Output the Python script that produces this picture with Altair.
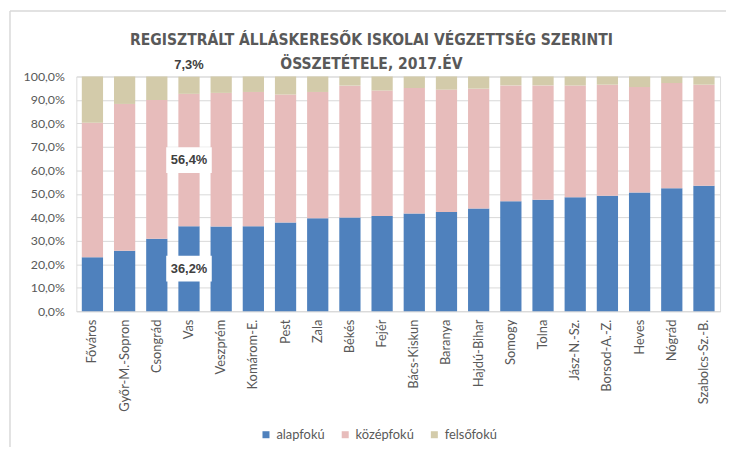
import altair as alt
import pandas as pd

categories = ["Főváros", "Győr-M.-Sopron", "Csongrád", "Vas", "Veszprém", "Komárom-E.",
              "Pest", "Zala", "Békés", "Fejér", "Bács-Kiskun", "Baranya", "Hajdú-Bihar",
              "Somogy", "Tolna", "Jász-N.-Sz.", "Borsod-A.-Z.", "Heves", "Nógrád",
              "Szabolcs-Sz.-B."]
alapfoku = [23.0, 25.8, 30.9, 36.2, 36.1, 36.2, 37.8, 39.6, 39.9, 40.6,
            41.6, 42.3, 43.7, 46.8, 47.5, 48.5, 49.2, 50.6, 52.4, 53.4]
kozepfoku = [57.3, 62.5, 59.1, 56.4, 56.9, 57.2, 54.5, 53.8, 56.2, 53.4,
             53.5, 52.1, 51.1, 49.4, 48.7, 47.7, 47.3, 44.9, 44.8, 43.1]
felsofoku = [19.7, 11.7, 10.0, 7.3, 7.0, 6.6, 7.7, 6.6, 3.9, 6.0,
             4.9, 5.6, 5.2, 3.8, 3.8, 3.8, 3.5, 4.5, 2.8, 3.5]
series_names = ["alapfokú", "középfokú", "felsőfokú"]
series_colors = ["#4F81BD", "#E7BCBB", "#D3CBAA"]
y_ticks = [0, 10, 20, 30, 40, 50, 60, 70, 80, 90, 100]
title_lines = ["REGISZTRÁLT ÁLLÁSKERESŐK ISKOLAI VÉGZETTSÉG SZERINTI",
               "ÖSSZETÉTELE, 2017.ÉV"]
labelled_category = "Vas"

rows = []
for i, c in enumerate(categories):
    for k, vals in enumerate([alapfoku, kozepfoku, felsofoku]):
        rows.append({"kat": c, "sorozat": series_names[k], "ertek": vals[i], "ord": k})
df = pd.DataFrame(rows)

li = categories.index(labelled_category)
def fmt(v):
    return f"{v:.1f}".replace(".", ",") + "%"

box_df = pd.DataFrame({
    "kat": [labelled_category] * 2,
    "pos": [alapfoku[li] / 2, alapfoku[li] + kozepfoku[li] / 2],
    "txt": [fmt(alapfoku[li]), fmt(kozepfoku[li])],
})
top_df = pd.DataFrame({
    "kat": [labelled_category],
    "pos": [alapfoku[li] + kozepfoku[li] + felsofoku[li]],
    "txt": [fmt(felsofoku[li])],
})

GRAY = "#595959"
x_scale = alt.Scale(paddingInner=0.34, paddingOuter=0.17)
y_scale = alt.Scale(domain=[0, 100], nice=False)
x_axis = alt.Axis(title=None, labelAngle=-90, ticks=False, domainColor="#D9D9D9",
                  labelPadding=8, labelFont="Lato", labelFontSize=13,
                  labelColor=GRAY, labelOverlap=False)
y_axis = alt.Axis(title=None, values=y_ticks, domain=False, ticks=False,
                  labelPadding=12, gridColor="#D9D9D9", labelFont="Lato",
                  labelFontSize=12.5, labelColor=GRAY, labelOverlap=False,
                  labelExpr="replace(format(datum.value, '.1f'), '.', ',') + '%'")

bars = alt.Chart(df).mark_bar().encode(
    x=alt.X("kat:N", sort=categories, scale=x_scale, axis=x_axis),
    y=alt.Y("ertek:Q", stack="zero", scale=y_scale, axis=y_axis),
    color=alt.Color("sorozat:N", scale=alt.Scale(domain=series_names, range=series_colors),
                    legend=alt.Legend(title=None, orient="none", legendX=185, legendY=355,
                                      direction="horizontal", symbolType="square",
                                      symbolSize=50, symbolStrokeWidth=0, labelFont="Lato",
                                      labelFontSize=13, labelColor=GRAY, columnPadding=14)),
    order=alt.Order("ord:Q", sort="ascending"),
)

xl = alt.X("kat:N", sort=categories, scale=x_scale, axis=x_axis)
yl = alt.Y("pos:Q", scale=y_scale, axis=y_axis)

boxes = alt.Chart(box_df).mark_point(
    shape="M-1,-0.565H1V0.565H-1Z", filled=True, fill="white", opacity=1,
    strokeWidth=0, size=2116
).encode(x=xl, y=yl)

box_text = alt.Chart(box_df).mark_text(
    font="Liberation Sans", fontSize=13, fontWeight="bold", color="#404040",
    baseline="middle"
).encode(x=xl, y=yl, text="txt:N")

top_text = alt.Chart(top_df).mark_text(
    font="Liberation Sans", fontSize=13, fontWeight="bold", color="#404040",
    baseline="middle", dy=-12
).encode(x=xl, y=yl, text="txt:N")

TFONT = "Liberation Sans Narrow, DejaVu Sans Condensed, Liberation Sans"
t1 = alt.Chart(pd.DataFrame({"t": [title_lines[0]]})).mark_text(
    font=TFONT, fontSize=15.7, fontWeight="bold", color=GRAY, align="center",
    baseline="alphabetic"
).encode(x=alt.value(298), y=alt.value(-32), text="t:N")
t2 = alt.Chart(pd.DataFrame({"t": [title_lines[1]]})).mark_text(
    font=TFONT, fontSize=15.7, fontWeight="bold", color=GRAY, align="center",
    baseline="alphabetic"
).encode(x=alt.value(298), y=alt.value(-8), text="t:N")

frame_top = alt.Chart(pd.DataFrame({"a": [0]})).mark_rule(color="#D9D9D9", strokeWidth=1.5).encode(
    x=alt.value(-67), x2=alt.value(720), y=alt.value(-66))
frame_left = alt.Chart(pd.DataFrame({"a": [0]})).mark_rule(color="#D9D9D9", strokeWidth=1.5).encode(
    x=alt.value(-67), y=alt.value(-66), y2=alt.value(400))

chart = alt.layer(bars, boxes, box_text, top_text, t1, t2, frame_top, frame_left).properties(
    width=650, height=237,
    autosize=alt.AutoSizeParams(type="none"),
    padding={"left": 69, "top": 67, "right": 6, "bottom": 135},
).configure_view(stroke=None).configure(background="white")

chart.save("out.html", embed_options={"renderer": "svg", "actions": False})
